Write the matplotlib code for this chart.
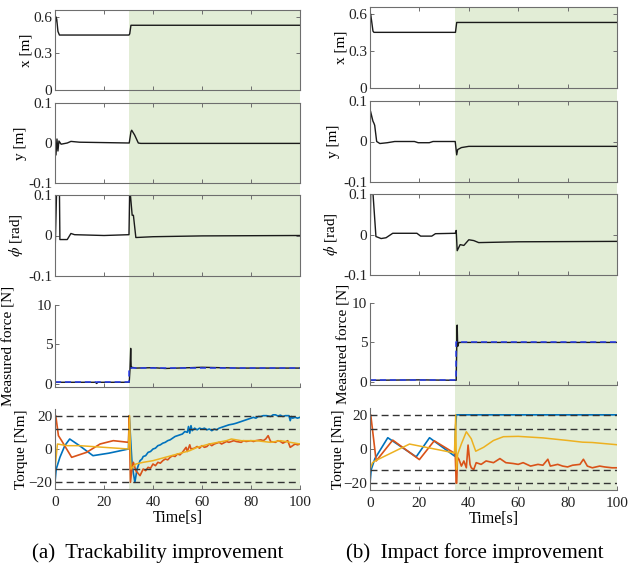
import matplotlib
matplotlib.use("Agg")
import matplotlib.pyplot as plt
from matplotlib.patches import Rectangle
from matplotlib.transforms import blended_transform_factory

plt.rcParams['font.family'] = ['Liberation Serif', 'DejaVu Serif']
plt.rcParams['mathtext.fontset'] = 'stix'

# ---- data ----
# (a) trackability improvement
a_x_t = [0, 0.3, 0.7, 1.2, 1.8, 30.2, 30.5, 31.0, 100]
a_x_v = [0.50, 0.60, 0.58, 0.48, 0.45, 0.45, 0.46, 0.53, 0.53]

a_y_t = [0, 0.4, 0.8, 1.2, 1.6, 2.5, 5, 6.5, 10, 30.3, 31.0, 31.3, 32.5, 34, 35, 100]
a_y_v = [0, -0.03, 0.01, -0.02, 0.005, -0.003, 0, 0.004, 0.002, 0, 0.028, 0.032, 0.02, 0, -0.001, -0.001]

a_phi_t = [0, 0.7, 1.0, 1.8, 2.0, 5, 6.5, 8, 20, 30.2, 30.5, 31.5, 32, 33, 40, 60, 100]
a_phi_v = [-0.05, 0.12, 0.12, 0.12, -0.01, -0.01, 0.005, 0.002, 0, 0.002, 0.12, 0.05, 0.05, -0.005, -0.003, -0.001, 0]

a_f_t = [0, 10, 16.5, 17, 17.5, 30.3, 30.6, 30.9, 31.1, 31.4, 33, 40, 45, 55, 60, 75, 90, 100]
a_f_v = [0.2, 0.2, 0.2, 0.05, 0.2, 0.2, 1.8, 4.5, 2.0, 2.1, 2.0, 2.05, 1.95, 2.05, 2.1, 2.0, 2.0, 2.0]
a_fref_t = [0, 30.3, 30.3, 100]
a_fref_v = [0.2, 0.2, 2.0, 2.0]

a_tb_t = [0, 0.5, 2, 4, 6, 10, 15.5, 22, 30, 30.3, 31.5, 32.6, 33.5, 34.7, 35.5, 36, 37, 38, 39,
          40, 41, 42, 43, 44, 45, 46, 47, 48, 49, 50, 51, 52, 53, 54, 54.5, 55, 55.5, 56, 57,
          58, 59, 60, 61, 62, 63, 64, 65, 66, 67, 68, 69, 70, 71, 72.8, 74, 75, 76, 77, 78,
          79, 81, 82, 83, 84, 85, 86.4, 88, 89, 90, 91, 92, 93, 94, 95.5, 96, 96.5, 97, 98, 99, 100]
a_tb_v = [-20, -12, -5, 2, 6, 2, -4, -2.5, 0, 20, -10, -20, -12, -7, -6, -4.5, -4, -2, -1.5,
          0, 0.5, 2, 2.5, 3.5, 4, 5, 5.5, 6.5, 7.5, 8, 8.5, 9, 10.5, 10, 13.5, 9.5, 14, 11, 12.5,
          11.5, 12.5, 12, 12.5, 11.5, 12, 11, 12, 11.5, 12.5, 13, 13.5, 14, 14.5, 15, 15.5, 16, 16.5, 17, 17.5,
          18, 19, 18.5, 19.5, 19.5, 20, 20, 19.5, 20.5, 20.5, 19.8, 20.3, 19.5, 20, 20, 17, 19.5, 18.5, 19, 18.5, 19]

a_to_t = [0, 0.3, 1.4, 2.7, 6.8, 12.9, 18.4, 23.8, 30, 30.3, 30.8, 31.5, 32, 33, 34.7, 36,
          37, 38, 39, 40, 41, 42, 43, 44, 45, 46, 47, 48, 49, 50, 51, 52, 53.5, 54, 55, 55.5,
          57, 58, 59, 60, 61, 62, 63, 64, 65, 67, 68, 70, 71, 73, 74, 76, 77, 78, 80, 81, 82,
          84, 85, 86, 87, 88, 90, 91, 92, 93, 95, 96, 97, 98, 99, 100]
a_to_v = [20, 20, 8, 5, -5, -2, 3, 5, 4, 20, -20, -10, -8, -13, -16, -12,
          -13, -11, -11.5, -9, -10, -8, -8.5, -7, -6, -6.5, -5, -4, -4.5, -3, -3.5, -2, 1, -1.5, 2.5, 0,
          0.5, 1.5, 0.5, 2, 1, 1.5, 3, 2, 3, 4, 3, 4.5, 4, 5, 4.5, 4, 5, 4.5, 5, 4.5, 5,
          5.5, 5, 6, 8, 4.5, 4, 5, 4.5, 3.5, 5, 1, 2, 3, 2.5, 3]

a_ty_t = [0, 1, 5, 10, 20, 30, 30.4, 31, 33, 36, 40, 45, 50, 55, 58, 63, 70, 72, 76, 82, 88, 92, 96, 100]
a_ty_v = [-12, 3, 2, 2, 1, 0, 20, -12, -9, -8, -7, -5, -3, -1, 1, 3, 5, 6, 5, 5, 4, 5, 4, 3]

# (b) impact force improvement
b_x_t = [0, 0.2, 0.6, 1.2, 1.6, 34.6, 35.1, 100]
b_x_v = [0.50, 0.60, 0.55, 0.46, 0.45, 0.45, 0.53, 0.53]

b_y_t = [0, 0.2, 0.8, 1.2, 1.6, 1.9, 2.7, 4, 7, 10, 18, 19.5, 24, 25.5, 34.5, 35.1, 35.5, 37, 40, 100]
b_y_v = [-0.02, 0.075, 0.06, 0.05, 0.045, 0.04, 0, -0.005, -0.003, 0, 0, -0.003, -0.003, 0, 0,
         -0.033, -0.02, -0.015, -0.012, -0.012]

b_phi_t = [0, 0.3, 1.0, 2.4, 4.5, 6.5, 9.2, 19, 20.5, 25, 26.5, 34.5, 34.9, 35.3, 36.5, 38,
           40, 42, 44, 60, 100]
b_phi_v = [-0.05, 0.12, 0.12, -0.005, -0.01, -0.008, 0.003, 0.003, -0.004, -0.004, 0.002, 0.003,
           0.01, -0.04, -0.025, -0.027, -0.013, -0.015, -0.02, -0.018, -0.017]

b_f_t = [0, 20, 34.9, 35.1, 35.3, 35.5, 36, 50, 100]
b_f_v = [0.2, 0.25, 0.2, 4.0, 7.2, 4.5, 5.0, 5.0, 5.0]
b_fref_t = [0, 34.9, 34.9, 100]
b_fref_v = [0.2, 0.2, 5.0, 5.0]

b_tb_t = [0, 0.5, 2, 7.2, 18.7, 24.1, 34.3, 34.6, 35, 100]
b_tb_v = [-20, -12, -5.6, 6.6, -4.6, 6.6, -4.2, 12, 20, 20]

b_to_t = [0, 0.3, 2.5, 9.2, 20, 26, 34.5, 34.9, 35.1, 35.4, 36, 37, 38, 39, 39.7, 40.5, 41,
          42, 43, 45, 47, 50, 52.6, 55, 58, 60, 62, 65, 68, 70, 72, 73, 76, 78, 80, 82,
          85, 86.4, 88, 90, 93, 95, 98, 100]
b_to_v = [20, 20, -7, 5.2, -6.2, 4.8, -2.7, -20, -20, -5, -6, -10, -7, -11, 2.3, -9, -11,
          -12, -8, -9, -7, -8, -5.6, -8, -8.5, -9, -8, -10, -9, -9.5, -6, -10, -9, -10, -10.5, -9.5,
          -9, -6, -10, -11, -10, -10.5, -11, -11]

b_ty_t = [0, 1, 2, 16, 34.2, 34.7, 35, 35.5, 37, 39, 41, 42.8, 46, 50, 54, 60, 70, 80, 86, 90, 100]
b_ty_v = [-12, -8, -7, 2.9, -2.3, 20, -12, -3, 3, 10.1, 6, -1.3, 1, 5, 7.2, 7.4, 6.5, 5, 4, 3.8, 2.5]

shade_start = [30.2, 34.6]
limit_levels = [20, 12, -12, -20]
captions = ["(a)  Trackability improvement", "(b)  Impact force improvement"]

W, H = 639, 568
LINE_C = '#1a1a1a'
AX_C = '#6e6e6e'
SHADE_C = '#e2edd6'
MBLUE, MORANGE, MYELLOW = '#0072BD', '#D95319', '#EDB120'


def pix_box(left, right, top, bottom):
    return [left / W, 1 - bottom / H, (right - left) / W, (bottom - top) / H]


def style_axes(ax, boxed):
    ax.set_facecolor('none')
    ax.set_xlim(0, 100)
    ax.set_xticks([0, 20, 40, 60, 80, 100])
    ax.tick_params(direction='in', length=3, width=0.7, colors=AX_C,
                   labelcolor='#222222', labelsize=11, pad=2)
    ax.tick_params(axis='x', pad=5)
    for s in ax.spines.values():
        s.set_color(AX_C)
        s.set_linewidth(0.8)
    if boxed:
        ax.tick_params(top=True, right=True)
    else:
        ax.spines['top'].set_visible(False)
        ax.spines['right'].set_visible(False)


fig = plt.figure(figsize=(W / 100, H / 100), dpi=100)
fig.patch.set_facecolor('white')

columns = [
    dict(left=55, right=300,
         rows=[(10, 90), (103, 183), (195, 276), (305, 387), (409, 489)],
         x=(a_x_t, a_x_v), y=(a_y_t, a_y_v), phi=(a_phi_t, a_phi_v),
         f=(a_f_t, a_f_v), fref=(a_fref_t, a_fref_v),
         tb=(a_tb_t, a_tb_v), to=(a_to_t, a_to_v), ty=(a_ty_t, a_ty_v),
         lab=[-0.09, -0.114, -0.122, -0.163, -0.11], cap_x=158),
    dict(left=370, right=617,
         rows=[(7, 88), (101, 182), (194, 275), (303, 385), (408, 490)],
         x=(b_x_t, b_x_v), y=(b_y_t, b_y_v), phi=(b_phi_t, b_phi_v),
         f=(b_f_t, b_f_v), fref=(b_fref_t, b_fref_v),
         tb=(b_tb_t, b_tb_v), to=(b_to_t, b_to_v), ty=(b_ty_t, b_ty_v),
         lab=[-0.093, -0.12, -0.12, -0.08, -0.10], cap_x=475),
]

for ci, col in enumerate(columns):
    axs = [fig.add_axes(pix_box(col['left'], col['right'], top, bot)) for top, bot in col['rows']]
    ax_x, ax_y, ax_p, ax_f, ax_t = axs

    ax_x.plot(*col['x'], color=LINE_C, lw=1.0)
    ax_x.set_ylim(0, 0.655)
    ax_x.set_yticks([0, 0.3, 0.6])
    ax_x.set_yticklabels(['0', '0.3', '0.6'])
    ax_x.set_ylabel('x [m]', fontsize=11)

    ax_y.plot(*col['y'], color=LINE_C, lw=1.0)
    ax_y.set_ylim(-0.1, 0.1)
    ax_y.set_yticks([-0.1, 0, 0.1])
    ax_y.set_yticklabels(['-0.1', '0', '0.1'])
    ax_y.set_ylabel('y [m]', fontsize=11)

    ax_p.plot(*col['phi'], color=LINE_C, lw=1.0)
    ax_p.set_ylim(-0.1, 0.1)
    ax_p.set_yticks([-0.1, 0, 0.1])
    ax_p.set_yticklabels(['-0.1', '0', '0.1'])
    ax_p.set_ylabel(r'$\phi$ [rad]', fontsize=11)

    ax_f.plot(*col['f'], color=LINE_C, lw=1.0)
    ax_f.plot(*col['fref'], color='#2a3ff0', lw=1.1, ls=(0, (4, 2.5)))
    ax_f.set_ylim(-0.4, 10)
    ax_f.set_yticks([0, 5, 10])
    ax_f.set_ylabel('Measured force [N]', fontsize=11)

    ax_t.plot(*col['tb'], color=MBLUE, lw=1.2)
    ax_t.plot(*col['to'], color=MORANGE, lw=1.2)
    ax_t.plot(*col['ty'], color=MYELLOW, lw=1.1)
    for lv in limit_levels:
        ax_t.axhline(lv, color='#333333', lw=1.0, ls=(0, (5, 3)))
    ax_t.set_ylim(-24, 24)
    ax_t.set_yticks([-20, 0, 20])
    ax_t.set_ylabel('Torque [Nm]', fontsize=11)
    ax_t.set_xlabel('Time[s]', fontsize=11.5, labelpad=1)

    for i, ax in enumerate(axs):
        style_axes(ax, boxed=i < 3)
        if i < 4:
            ax.tick_params(labelbottom=False)
        ax.yaxis.set_label_coords(col['lab'][i], 0.5)

    # green region spans the whole column, through the gaps between panels
    trans = blended_transform_factory(ax_t.transData, fig.transFigure)
    y0 = 1 - col['rows'][4][1] / H
    y1 = 1 - col['rows'][0][0] / H
    rect = Rectangle((shade_start[ci], y0), 100 - shade_start[ci], y1 - y0,
                     transform=trans, facecolor=SHADE_C, edgecolor='none', zorder=-1)
    fig.add_artist(rect)

    fig.text(col['cap_x'] / W, 1 - 553 / H, captions[ci], ha='center', va='center', fontsize=15)

fig.savefig('out.png', dpi=100)
